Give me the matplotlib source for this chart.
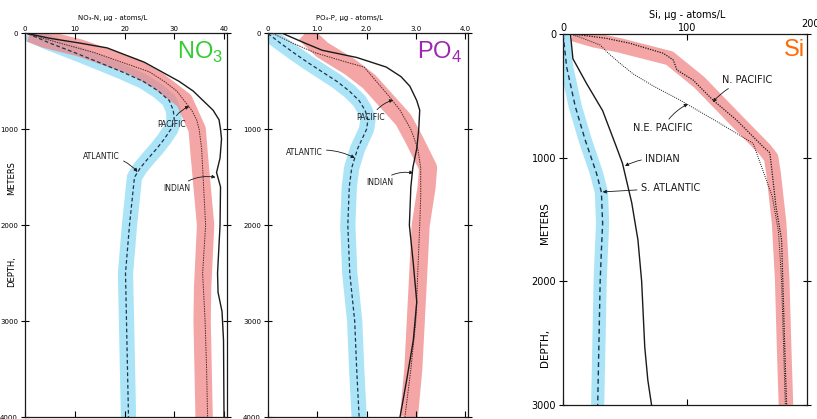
import matplotlib
matplotlib.use("Agg")
import matplotlib.pyplot as plt

plt.rcParams["font.family"] = ["DejaVu Sans"]

W, H = 817, 419

# ---- NO3 panel (ug-atoms/L against depth in m)
no3_atl_depth = [0, 100, 200, 300, 400, 500, 600, 700, 800, 900, 1000, 1100, 1200,
                 1300, 1400, 1500, 1700, 2000, 2500, 3000, 3500, 4000]
no3_atl = [0.5, 5.0, 10.0, 14.8, 19.5, 23.8, 26.8, 29.0, 29.8, 30.0, 29.3, 28.0, 26.5,
           24.8, 23.2, 22.0, 21.6, 21.0, 20.2, 20.4, 20.6, 20.8]
no3_pac_depth = [0, 100, 200, 300, 400, 500, 600, 700, 800, 900, 1000, 1200, 1500,
                 2000, 2500, 3000, 3500, 4000]
no3_pac = [0.3, 7.0, 14.0, 19.5, 25.0, 28.0, 30.5, 32.0, 33.5, 34.5, 35.0, 35.5, 35.8,
           36.3, 35.7, 36.2, 36.5, 36.7]
no3_pac_band_depth = [0, 60, 150, 350, 500, 700, 1000, 1250, 1600, 2000, 2650, 3000, 3500, 4000]
no3_pac_band = [1.0, 4.0, 11.0, 22.0, 27.0, 32.0, 34.6, 35.0, 35.6, 36.3, 35.7, 35.6, 35.8, 36.0]
no3_ind_depth = [0, 50, 100, 150, 200, 300, 400, 500, 600, 700, 800, 900, 1000, 1100,
                 1300, 1450, 1600, 2000, 2500, 2700, 2900, 3200, 4000]
no3_ind = [0.5, 5.0, 11.0, 16.5, 19.0, 24.0, 27.5, 31.0, 33.8, 35.8, 37.8, 39.0, 39.3, 39.5,
           39.2, 38.5, 39.3, 39.2, 38.7, 38.8, 39.6, 39.9, 40.0]

# ---- PO4 panel
po4_atl_depth = [0, 100, 200, 300, 400, 500, 600, 700, 800, 900, 1000, 1200, 1400, 1600,
                 2000, 2500, 3000, 3500, 4000]
po4_atl = [0.0, 0.25, 0.52, 0.8, 1.1, 1.4, 1.65, 1.85, 1.97, 2.03, 2.0, 1.82, 1.7, 1.65,
           1.62, 1.66, 1.76, 1.8, 1.85]
po4_pac_depth = [0, 100, 200, 300, 350, 500, 650, 800, 1000, 1200, 1400, 1700, 2000,
                 2500, 3000, 3500, 4000]
po4_pac = [0.1, 0.5, 0.95, 1.6, 1.95, 2.2, 2.45, 2.68, 2.9, 3.04, 3.1, 3.1, 3.08,
           3.04, 3.0, 2.9, 2.78]
po4_pac_band_depth = [0, 170, 350, 500, 700, 900, 1100, 1400, 1600, 2000, 2600, 3000, 3500, 4000]
po4_pac_band = [0.75, 1.1, 1.67, 2.05, 2.4, 2.75, 2.96, 3.25, 3.22, 3.1, 3.04, 3.0, 2.95, 2.86]
po4_ind_depth = [0, 100, 175, 250, 350, 450, 550, 700, 800, 1000, 1200, 1400, 1600, 2000,
                 2400, 2800, 3200, 3600, 4000]
po4_ind = [0.3, 0.75, 1.1, 1.8, 2.4, 2.7, 2.88, 3.02, 3.08, 3.06, 3.02, 2.94, 2.9, 2.87,
           2.95, 3.02, 2.95, 2.82, 2.68]

# ---- Si panel
si_atl_depth = [0, 270, 590, 860, 1125, 1280, 1530, 1750, 2000, 2500, 3000]
si_atl = [0, 3, 10, 18, 27, 31, 32, 31, 30, 29, 28]
si_ind_depth = [0, 200, 400, 620, 910, 1045, 1365, 1665, 2000, 2530, 2800, 3000]
si_ind = [6, 8, 19, 32, 43, 48, 55.5, 60.5, 63.5, 66, 68.5, 71.5]
si_npac_depth = [0, 8, 35, 75, 156, 210, 291, 372, 534, 695, 911, 960, 1045, 1400,
                 1665, 2010, 2530, 3000]
si_npac = [5, 14, 35, 54, 81, 89, 92, 105, 121, 140, 161.5, 167, 168, 172,
           176.5, 177.5, 179, 180.5]
si_npac_band_depth = [0, 50, 90, 195, 390, 700, 935, 1000, 1125, 1530, 1990, 2530, 3000]
si_npac_band = [8, 25, 45, 86, 110, 140, 163, 168, 170, 174.5, 177, 178.5, 180]
si_nepac_depth = [0, 21, 62, 89, 156, 237, 323, 420, 534, 722, 884, 1065, 1315, 1600,
                  2000, 2500, 3000]
si_nepac = [5, 12.4, 23, 30, 36.6, 46, 56.7, 72.8, 94.4, 126.6, 153.5, 160, 169, 174,
            176.5, 178, 179.5]

BLUE = "#8fdcf5"
RED = "#f08080"
INK = "#1a1a1a"
DASH = "#1f3550"


def px_axes(fig, left, right, top, bottom):
    return fig.add_axes([left / W, 1 - bottom / H, (right - left) / W, (bottom - top) / H])


def band(ax, x, d, color, lw, alpha):
    ax.plot(x, d, color=color, lw=lw, alpha=alpha, solid_capstyle="butt",
            solid_joinstyle="round", zorder=1)


def frame(ax, xt, xlab, yt, size):
    ax.set_xticks(xt)
    ax.set_xticklabels(xlab)
    ax.set_yticks(yt)
    ax.set_yticklabels([str(v) for v in yt])
    ax.tick_params(axis="x", top=True, bottom=True, labeltop=True, labelbottom=False,
                   direction="in", length=4, width=0.8, labelsize=size, pad=1)
    ax.tick_params(axis="y", left=True, right=True, direction="inout", length=6,
                   width=0.8, labelsize=size, pad=2)
    for s in ax.spines.values():
        s.set_linewidth(0.9)
        s.set_color(INK)


def label(ax, text, xy, xytext, size, rad=0.2):
    ax.annotate(text, xy=xy, xytext=xytext, ha="center", va="center", fontsize=size,
                color=INK, zorder=5,
                arrowprops=dict(arrowstyle="-|>", color=INK, lw=0.6, mutation_scale=5,
                                shrinkA=1, shrinkB=0, connectionstyle=f"arc3,rad={rad}"))


fig = plt.figure(figsize=(W / 100, H / 100), dpi=100)

# NO3
ax1 = px_axes(fig, 25, 227, 33.5, 417)
ax1.set_xlim(0, 40.6)
ax1.set_ylim(4000, 0)
band(ax1, no3_atl, no3_atl_depth, BLUE, 11, 0.75)
band(ax1, no3_pac_band, no3_pac_band_depth, RED, 12.5, 0.7)
ax1.plot(no3_atl, no3_atl_depth, color=DASH, lw=0.9, dashes=(3, 2), zorder=3)
ax1.plot(no3_pac, no3_pac_depth, color="#5a2626", lw=0.7, ls=(0, (1.5, 1)), zorder=3)
ax1.plot(no3_ind, no3_ind_depth, color=INK, lw=1.0, zorder=3)
frame(ax1, [0, 10, 20, 30, 40], ["0", "10", "20", "30", "40"], [0, 1000, 2000, 3000, 4000], 5)
label(ax1, "PACIFIC", (33, 760), (29.4, 944), 5.5, -0.2)
label(ax1, "ATLANTIC", (22.6, 1444), (15.3, 1288), 5.5, -0.25)
label(ax1, "INDIAN", (38.3, 1500), (30.6, 1621), 5.5, -0.25)
ax1.text(0.436, 1.04, "NO\u2083-N, \u00b5g - atoms/L", transform=ax1.transAxes,
         ha="center", va="center", fontsize=5)
fig.text(12 / W, 1 - 178 / H, "METERS", rotation=90, ha="center", va="center", fontsize=6)
fig.text(12 / W, 1 - 272 / H, "DEPTH,", rotation=90, ha="center", va="center", fontsize=6)
fig.text(200 / W, 1 - 52 / H, r"NO$_\mathregular{3}$", ha="center", va="center",
         fontsize=17, color="#33cc33", family="Liberation Sans")

# PO4
ax2 = px_axes(fig, 268, 468, 33.5, 417)
ax2.set_xlim(0, 4.06)
ax2.set_ylim(4000, 0)
band(ax2, po4_atl, po4_atl_depth, BLUE, 11, 0.75)
band(ax2, po4_pac_band, po4_pac_band_depth, RED, 13, 0.7)
ax2.plot(po4_atl, po4_atl_depth, color=DASH, lw=0.9, dashes=(3, 2), zorder=3)
ax2.plot(po4_pac, po4_pac_depth, color="#5a2626", lw=0.7, ls=(0, (1.5, 1)), zorder=3)
ax2.plot(po4_ind, po4_ind_depth, color=INK, lw=1.0, zorder=3)
frame(ax2, [0, 1, 2, 3, 4], ["0", "1.0", "2.0", "3.0", "4.0"], [0, 1000, 2000, 3000, 4000], 5)
label(ax2, "PACIFIC", (2.54, 693), (2.09, 881), 5.5, -0.2)
label(ax2, "ATLANTIC", (1.76, 1298), (0.73, 1246), 5.5, -0.2)
label(ax2, "INDIAN", (2.95, 1455), (2.27, 1559), 5.5, -0.25)
ax2.text(0.41, 1.04, "PO\u2084-P, \u00b5g - atoms/L", transform=ax2.transAxes,
         ha="center", va="center", fontsize=5)
fig.text(440 / W, 1 - 52 / H, r"PO$_\mathregular{4}$", ha="center", va="center",
         fontsize=17, color="#9c27b0", family="Liberation Sans")

# Si
ax3 = px_axes(fig, 563, 807, 34, 405)
ax3.set_xlim(0, 197)
ax3.set_ylim(3000, 0)
band(ax3, si_atl, si_atl_depth, BLUE, 9.5, 0.75)
band(ax3, si_npac_band, si_npac_band_depth, RED, 10.5, 0.7)
ax3.plot(si_atl, si_atl_depth, color=DASH, lw=1.0, dashes=(3.5, 2.5), zorder=3)
ax3.plot(si_nepac, si_nepac_depth, color=INK, lw=0.7, ls=(0, (1, 1.2)), zorder=3)
ax3.plot(si_npac, si_npac_depth, color=INK, lw=0.9, ls=(0, (1, 1)), zorder=3)
ax3.plot(si_ind, si_ind_depth, color=INK, lw=1.0, zorder=3)
frame(ax3, [0, 100], ["0", "100"], [0, 1000, 2000, 3000], 7)
ax3.text(200, -40, "200", ha="center", va="bottom", fontsize=7, clip_on=False)
label(ax3, "N. PACIFIC", (121, 550), (149, 372), 7, 0.15)
label(ax3, "N.E. PACIFIC", (100.8, 566), (80.6, 760), 7, -0.15)
label(ax3, "INDIAN", (50, 1067), (80.6, 1010), 7, 0.15)
label(ax3, "S. ATLANTIC", (32, 1277), (87, 1245), 7, 0.0)
ax3.text(0.51, 1.05, "Si, \u00b5g - atoms/L", transform=ax3.transAxes,
         ha="center", va="center", fontsize=7)
fig.text(545 / W, 1 - 223 / H, "METERS", rotation=90, ha="center", va="center", fontsize=7.5)
fig.text(545 / W, 1 - 348 / H, "DEPTH,", rotation=90, ha="center", va="center", fontsize=7.5)
fig.text(794 / W, 1 - 50 / H, "Si", ha="center", va="center",
         fontsize=17, color="#ff6a00", family="Liberation Sans")

fig.savefig("out.png", dpi=100)
